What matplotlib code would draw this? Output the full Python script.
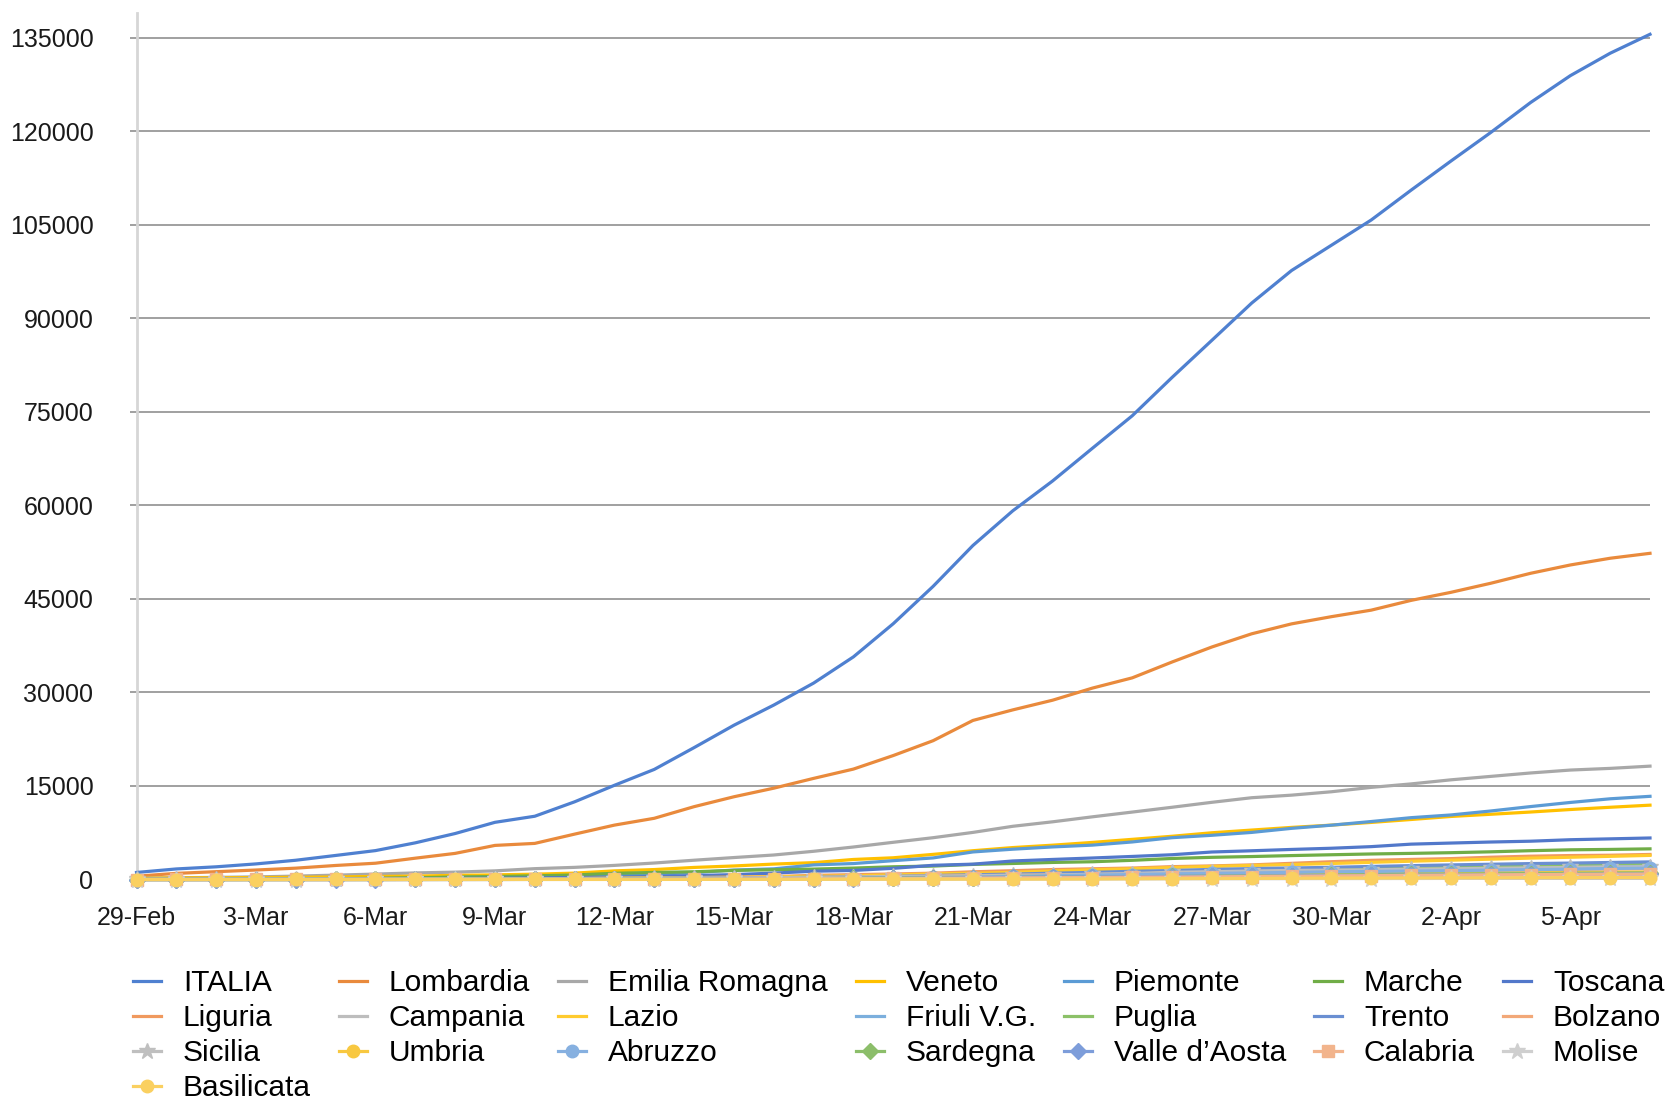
import matplotlib
matplotlib.use("Agg")
import matplotlib.pyplot as plt

plt.rcParams['font.family'] = ['Liberation Sans', 'DejaVu Sans']

dates = ["29-Feb"] + [f"{d}-Mar" for d in range(1, 32)] + [f"{d}-Apr" for d in range(1, 8)]

ITALIA = [1128,1694,2036,2502,3089,3858,4636,5883,7375,9172,10149,12462,15113,17660,21157,24747,27980,31506,35713,41035,47021,53578,59138,63927,69176,74386,80539,86498,92472,97689,101739,105792,110574,115242,119827,124632,128948,132547,135586]
Lombardia = [531,984,1254,1520,1820,2251,2612,3420,4189,5469,5791,7280,8725,9820,11685,13272,14649,16220,17713,19884,22264,25515,27206,28761,30703,32346,34889,37298,39415,41007,42161,43208,44773,46065,47520,49118,50455,51534,52325]
Emilia_Romagna = [217,285,335,420,544,698,870,1056,1180,1386,1739,1947,2263,2644,3093,3522,3931,4525,5214,5968,6705,7555,8535,9254,10054,10816,11588,12383,13119,13531,14074,14778,15333,15988,16540,17089,17556,17825,18185]
Veneto = [191,263,273,307,360,407,488,543,670,744,856,1023,1384,1595,1937,2172,2473,2704,3214,3484,4031,4617,5122,5505,5948,6442,6935,7497,7930,8358,8724,9155,9625,10111,10463,10824,11226,11588,11925]
Piemonte = [11,49,51,56,82,108,143,207,350,360,477,501,580,840,1111,1516,1708,2341,2559,3020,3461,4420,4861,5225,5515,6024,6708,7092,7554,8206,8712,9301,9918,10353,10989,11699,12360,12947,13343]
Marche = [11,25,46,61,84,124,199,271,394,479,592,725,996,1133,1242,1453,1568,1671,1831,2041,2153,2419,2569,2736,2847,3077,3373,3558,3684,3837,3970,4097,4190,4301,4441,4624,4763,4824,4916]
Toscana = [8,11,13,19,38,61,79,113,166,208,264,320,364,470,630,781,1024,1330,1455,1793,2277,2461,2972,3217,3450,3699,3972,4412,4608,4822,5014,5273,5671,5847,6013,6143,6380,6520,6660]
Liguria = [19,24,24,25,24,25,24,22,67,86,128,143,168,242,290,363,467,667,780,889,1012,1234,1412,1598,1720,1837,2064,2180,2345,2594,2854,3076,3217,3350,3571,3740,3842,3893,4017]
Campania = [4,13,17,30,31,31,31,47,74,101,120,154,179,220,220,220,400,460,502,601,693,805,879,960,1026,1101,1199,1293,1310,1454,1592,1701,1759,1890,2092,2231,2348,2456,2589]
Lazio = [3,6,6,6,15,30,44,64,76,102,116,150,200,250,316,355,429,522,601,735,899,1005,1150,1381,1565,1723,1922,2092,2250,2394,2564,2757,2933,3095,3260,3434,3568,3715,3868]
Friuli = [0,0,0,5,6,8,12,18,30,45,60,95,128,148,211,234,262,301,347,400,462,613,729,839,916,1001,1128,1236,1301,1360,1480,1593,1635,1718,1773,1846,1929,2020,2159]
Puglia = [3,3,3,3,3,6,9,16,26,29,50,60,86,104,127,156,196,248,293,354,441,568,699,788,909,1005,1162,1300,1456,1596,1712,1806,1949,2080,2183,2306,2420,2520,2630]
Trento = [0,0,0,1,4,7,10,14,29,43,73,93,140,182,220,249,291,350,427,498,639,759,866,1010,1143,1315,1442,1618,1749,1847,1951,2093,2222,2339,2447,2553,2632,2730,2823]
Bolzano = [1,1,1,1,1,2,5,9,20,32,39,56,90,115,155,201,235,300,384,440,530,618,680,741,799,860,934,1003,1070,1155,1248,1313,1375,1431,1487,1556,1614,1670,1724]
Sicilia = [4,7,9,18,19,20,24,53,53,62,83,115,140,173,200,213,282,340,378,490,530,583,675,721,846,956,1164,1250,1359,1460,1500,1555,1647,1718,1791,1859,1932,1994,2050]
Umbria = [0,0,2,2,2,5,9,11,16,21,28,38,50,79,106,125,156,181,227,273,343,415,484,538,609,664,733,795,877,911,963,1010,1043,1071,1092,1127,1150,1170,1205]
Abruzzo = [0,0,0,2,4,5,7,9,13,17,30,38,58,77,89,109,142,176,229,313,360,422,492,614,701,795,900,984,1050,1133,1231,1293,1345,1416,1504,1586,1667,1765,1836]
Sardegna = [0,0,0,0,0,1,2,7,9,11,19,30,39,46,60,81,104,114,181,232,271,294,339,371,398,451,487,536,577,640,717,780,844,865,913,950,992,1032,1056]
Valle_dAosta = [0,0,0,0,0,0,0,1,3,6,11,15,17,30,41,51,80,105,144,181,221,276,325,383,411,448,476,500,535,582,620,653,678,703,734,759,809,860,884]
Calabria = [0,1,1,1,1,1,2,4,7,11,16,21,25,31,39,56,79,110,138,163,186,219,263,291,316,358,384,430,474,521,574,620,665,700,742,783,815,846,868]
Molise = [0,0,0,0,0,1,1,1,2,5,11,15,15,17,18,20,20,28,30,34,40,50,58,65,75,92,104,114,120,133,143,151,161,176,184,194,200,203,208]
Basilicata = [0,0,0,0,1,1,1,3,3,5,7,8,9,10,17,23,26,30,46,55,56,60,64,71,86,116,144,163,175,198,217,232,244,263,276,291,300,306,310]

names = ["ITALIA", "Lombardia", "Emilia Romagna", "Veneto", "Piemonte", "Marche", "Toscana",
         "Liguria", "Campania", "Lazio", "Friuli V.G.", "Puglia", "Trento", "Bolzano",
         "Sicilia", "Umbria", "Abruzzo", "Sardegna", "Valle d\u2019Aosta", "Calabria", "Molise",
         "Basilicata"]
series = [ITALIA, Lombardia, Emilia_Romagna, Veneto, Piemonte, Marche, Toscana,
          Liguria, Campania, Lazio, Friuli, Puglia, Trento, Bolzano,
          Sicilia, Umbria, Abruzzo, Sardegna, Valle_dAosta, Calabria, Molise, Basilicata]
colors = ["#4F80D0", "#E98A3C", "#A8A8A8", "#FFC000", "#5B9BD5", "#70AD47", "#5278CA",
          "#F0995E", "#BDBDBD", "#FFCB2E", "#7CAFDD", "#8CC168", "#6A8FD2", "#F2A878",
          "#BFBFBF", "#F8C840", "#86B0E0", "#8CBE6A", "#7D9DDA", "#F2B48C", "#CFCFCF",
          "#FAD060"]
markers = [None]*14 + ["*", "o", "o", "D", "D", "s", "*", "o"]

fig = plt.figure(figsize=(16.71, 11.03), dpi=100)
W, H = 1671, 1103
ax = fig.add_axes([136.5/W, 1-879.5/H, (1650-136.5)/W, (879.5-13)/H])

x = list(range(len(dates)))
handles = {}
for name, ys, c, m in zip(names, series, colors, markers):
    if m is None:
        ln, = ax.plot(x, ys, color=c, lw=2.3, clip_on=False, label=name, zorder=3)
    else:
        ms = 12 if m == "*" else 9
        if m in ("D", "s"):
            ms = 8
        ln, = ax.plot(x, ys, color=c, lw=2.3, marker=m, markersize=ms,
                      markeredgecolor=c, clip_on=False, label=name, zorder=3)
    handles[name] = ln

ax.set_xlim(0, 38)
ax.set_ylim(0, 139000)
ax.set_yticks(list(range(0, 135001, 15000)))
ax.set_yticklabels([str(v) for v in range(0, 135001, 15000)])
ax.set_xticks(x[::3])
ax.set_xticklabels(dates[::3])

ax.yaxis.grid(True, color="#A0A0A0", lw=1.4)
ax.set_axisbelow(True)
for s in ["top", "right", "bottom"]:
    ax.spines[s].set_visible(False)
ax.spines["left"].set_color("#D6D6D6")
ax.spines["left"].set_linewidth(2)
ax.tick_params(axis="y", length=5, width=1.4, color="#A0A0A0", pad=26,
               labelsize=18, labelcolor="#1a1a1a")
ax.tick_params(axis="x", length=0, pad=19, labelsize=18, labelcolor="#1a1a1a")

# legend: row-major reading order, column-major placement
ncol = 7
rows = [names[i:i+ncol] for i in range(0, len(names), ncol)]
order = []
for c in range(ncol):
    for r in rows:
        if c < len(r):
            order.append(r[c])
leg = fig.legend([handles[n] for n in order], order, loc="upper left",
                 bbox_to_anchor=(133/W, 1-969/H), ncol=ncol, frameon=False,
                 fontsize=21.5, handlelength=0.95, handletextpad=0.72,
                 columnspacing=0.94, labelspacing=0.235, borderpad=0,
                 borderaxespad=0, numpoints=1)

fig.savefig("out.png", dpi=100)
